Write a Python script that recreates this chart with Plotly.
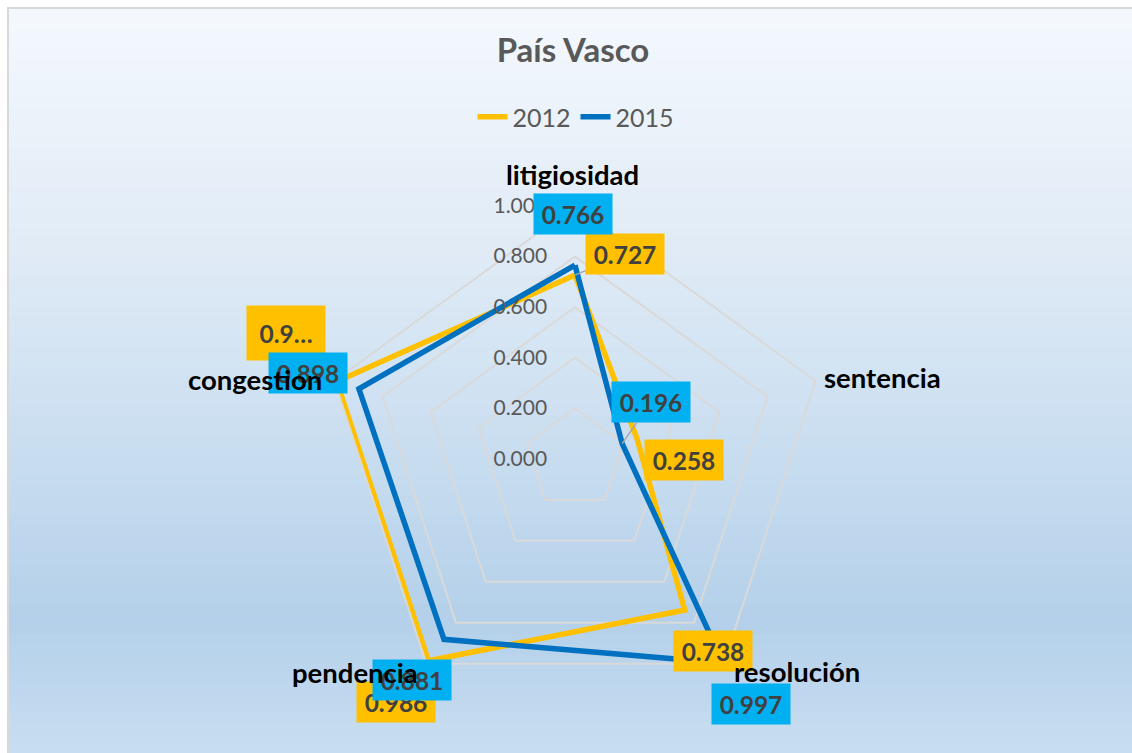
import math
import plotly.graph_objects as go

W, H = 1132, 753

categories = ["litigiosidad", "sentencia", "resolución", "pendencia", "congestion"]
values_2012 = [0.727, 0.258, 0.738, 0.986, 0.990]
values_2015 = [0.766, 0.196, 0.997, 0.881, 0.898]
labels_2012 = ["0.727", "0.258", "0.738", "0.986", "0.9…"]
labels_2015 = ["0.766", "0.196", "0.997", "0.881", "0.898"]
radial_ticks = [0.0, 0.2, 0.4, 0.6, 0.8, 1.0]

YELLOW = "#FFC000"
BLUE = "#0070C0"
BOX_BLUE = "#00B0F0"
FONT = "Lato"

# polar placement in pixels
CX, CY, RAD = 575, 459, 253
domain_x = [(CX - RAD) / W, (CX + RAD) / W]
domain_y = [(H - CY - RAD) / H, (H - CY + RAD) / H]


def to_paper(r, i):
    ang = math.radians(90 - 72 * i)
    px = CX + r * RAD * math.cos(ang)
    py = CY - r * RAD * math.sin(ang)
    return px / W, (H - py) / H


fig = go.Figure()

# background gradient
stops = [(0, (245, 249, 254)), (250, (224, 235, 246)), (400, (207, 225, 242)),
         (620, (180, 208, 234)), (753, (200, 221, 241))]
n = 75
for k in range(n):
    y0p = 9 + (H - 9) * k / n
    y1p = 9 + (H - 9) * (k + 1) / n
    ym = (y0p + y1p) / 2
    for (a, ca), (b, cb) in zip(stops[:-1], stops[1:]):
        if a <= ym <= b:
            t = (ym - a) / (b - a)
            col = tuple(round(ca[j] + (cb[j] - ca[j]) * t) for j in range(3))
            break
    fig.add_shape(type="rect", xref="paper", yref="paper",
                  x0=9 / W, x1=1.01, y0=(H - y1p) / H - 0.001, y1=(H - y0p) / H,
                  fillcolor="rgb(%d,%d,%d)" % col, line=dict(width=0), layer="below")
fig.add_shape(type="rect", xref="paper", yref="paper",
              x0=8 / W, x1=1.01, y0=-0.01, y1=(H - 8) / H,
              line=dict(color="#d9d9d9", width=2), layer="below")

fig.add_trace(go.Scatterpolar(
    r=values_2012 + values_2012[:1], theta=categories + categories[:1],
    name="2012", mode="lines", line=dict(color=YELLOW, width=5.5)
))
fig.add_trace(go.Scatterpolar(
    r=values_2015 + values_2015[:1], theta=categories + categories[:1],
    name="2015", mode="lines", line=dict(color=BLUE, width=5.5)
))

# data labels: offset in px (dx, dy down) and whether a leader line is shown
offs_2012 = [(50, -21, True), (47, 21, False), (28, 41, False), (-32, 41, False), (-51, -49, False)]
offs_2015 = [(-2, -51, False), (29, -42, True), (28, 41, False), (-32, 41, False), (-51, -16, False)]


def add_labels(vals, labs, offs, bg):
    for i, (v, lab, (dx, dy, lead)) in enumerate(zip(vals, labs, offs)):
        x, y = to_paper(v, i)
        fig.add_annotation(
            x=x, y=y, xref="paper", yref="paper", text="<b>%s</b>" % lab,
            showarrow=True, ax=dx, ay=dy, arrowhead=0, arrowwidth=1.5,
            arrowcolor="#a6a6a6" if lead else "rgba(0,0,0,0)",
            standoff=0, startstandoff=0,
            bgcolor=bg, width=68, height=44 if lab.endswith("…") else 30, borderpad=5,
            font=dict(family=FONT, size=24.5, color="#404040")
        )


add_labels(values_2012, labels_2012, offs_2012, YELLOW)
add_labels(values_2015, labels_2015, offs_2015, BOX_BLUE)

# category names, drawn above the data labels as in the original
cat_offs = [(-2, 31), (67, 3), (73, -8), (-71, -9), (-79, 1)]
for i, (name, (dx, dy)) in enumerate(zip(categories, cat_offs)):
    x, y = to_paper(1.0, i)
    fig.add_annotation(x=x, y=y, xref="paper", yref="paper", text="<b>%s</b>" % name,
                       showarrow=False, xshift=dx, yshift=dy,
                       xanchor="center", yanchor="middle",
                       font=dict(family=FONT, size=27.5, color="black"))

fig.update_layout(
    width=W, height=H,
    margin=dict(l=0, r=0, t=0, b=0),
    paper_bgcolor="white",
    font=dict(family=FONT),
    title=dict(text="<b>País Vasco</b>", x=573 / W, xanchor="center",
               y=1 - 50 / H, yanchor="middle",
               font=dict(family=FONT, size=33, color="#595959")),
    legend=dict(orientation="h", x=576 / W, xanchor="center", y=1 - 117 / H, yanchor="middle",
                font=dict(family=FONT, size=25, color="#595959"), bgcolor="rgba(0,0,0,0)"),
    polar=dict(
        domain=dict(x=domain_x, y=domain_y),
        bgcolor="rgba(0,0,0,0)",
        gridshape="linear",
        radialaxis=dict(range=[0, 1], tickvals=radial_ticks, tickformat=".3f",
                        angle=90, tickangle=90, side="counterclockwise", showline=False,
                        gridcolor="#d9d9d9", gridwidth=2,
                        ticks="outside", ticklen=20, tickcolor="rgba(0,0,0,0)",
                        tickfont=dict(family=FONT, size=21, color="#595959")),
        angularaxis=dict(rotation=90, direction="clockwise", showgrid=False,
                         linecolor="#d9d9d9", linewidth=2, ticks="",
                         showticklabels=False)
    )
)

fig.write_html("out.html", config={"displayModeBar": False},
               post_script="document.body.style.margin='0px';")
